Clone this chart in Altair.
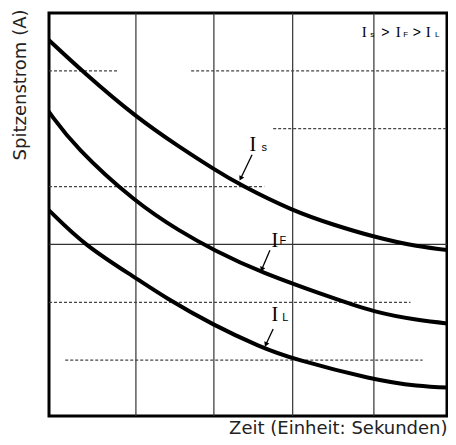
import altair as alt
import pandas as pd

# ---- data (x: time units, y: current units) ----
is_x = [0, 0.42, 1.07, 1.61, 2.03, 2.35, 3.00, 3.50, 4.00, 4.53, 5.0]
is_y = [6.53, 5.98, 5.20, 4.68, 4.30, 4.03, 3.58, 3.34, 3.13, 2.96, 2.89]
if_x = [0, 0.32, 1.07, 1.61, 2.03, 2.60, 3.50, 4.00, 4.53, 5.0]
if_y = [5.29, 4.68, 3.72, 3.23, 2.90, 2.52, 2.07, 1.83, 1.69, 1.62]
il_x = [0, 0.44, 1.07, 1.43, 2.03, 2.60, 3.00, 4.00, 4.53, 5.0]
il_y = [3.59, 2.98, 2.42, 2.08, 1.60, 1.23, 1.02, 0.66, 0.55, 0.52]

vgrid_x = [1.07, 2.03, 3.0, 4.0]
# horizontal grid segments: y, x start, x end, solid?
hgrid_y = [6, 6, 5, 4, 3, 2, 1]
hgrid_x1 = [0, 1.75, 2.76, 0, 0, 0, 0.2]
hgrid_x2 = [0.84, 5, 5, 2.65, 5, 4.45, 4.6]
hgrid_solid = [False, False, False, False, True, False, False]

# curve labels: main letter "I" and subscript
lab_i_x = [2.51, 2.78, 2.78]
lab_i_y = [4.61, 2.96, 1.68]
lab_sub = ["s", "F", "L"]
lab_sub_x = [2.65, 2.88, 2.91]
lab_sub_y = [4.61, 3.00, 1.68]
arrow_x1 = [2.50, 2.72, 2.76]
arrow_y1 = [4.55, 2.90, 1.54]
arrow_x2 = [2.36, 2.62, 2.67]
arrow_y2 = [4.14, 2.57, 1.27]
arrow_angle = [26.6, 21.8, 23.6]

# top-right legend "Is > IF > IL"
leg_i_x = [3.88, 4.30, 4.67]
leg_sub = ["s", "F", "L"]
leg_sub_x = [3.98, 4.39, 4.78]
leg_gt_x = [4.14, 4.53]
leg_y = 6.58

curves = pd.concat([
    pd.DataFrame({"x": is_x, "y": is_y, "c": "Is"}),
    pd.DataFrame({"x": if_x, "y": if_y, "c": "IF"}),
    pd.DataFrame({"x": il_x, "y": il_y, "c": "IL"}),
])

xs = alt.Scale(domain=[0, 4.90], nice=False, zero=False)
ys = alt.Scale(domain=[0.035, 7], nice=False, zero=False)

x_axis = alt.Axis(title="Zeit (Einheit: Sekunden)", labels=False, ticks=False, grid=False,
                  domain=False, titleAnchor="end", titleAlign="right", titleX=398, titleY=17,
                  titleBaseline="alphabetic", titleFont="DejaVu Sans", titleFontSize=18,
                  titleFontWeight="normal", titleColor="#222")
y_axis = alt.Axis(title="Spitzenstrom (A)", labels=False, ticks=False, grid=False,
                  domain=False, titleAngle=270, titleAlign="right", titleAnchor="end",
                  titleX=-24, titleY=-4, titleBaseline="alphabetic", titleFont="DejaVu Sans",
                  titleFontSize=18, titleFontWeight="normal", titleColor="#222")

vg = alt.Chart(pd.DataFrame({"x": vgrid_x})).mark_rule(color="#333", strokeWidth=1.2).encode(
    x=alt.X("x:Q", scale=xs, axis=x_axis))

hg_df = pd.DataFrame({"y": hgrid_y, "x1": hgrid_x1, "x2": hgrid_x2, "solid": hgrid_solid})
hg_solid = alt.Chart(hg_df[hg_df.solid]).mark_rule(color="#333", strokeWidth=1.2, clip=True).encode(
    y=alt.Y("y:Q", scale=ys, axis=y_axis), x=alt.X("x1:Q", scale=xs), x2="x2:Q")
hg_dash = alt.Chart(hg_df[~hg_df.solid]).mark_rule(color="#444", strokeWidth=1.2,
                                                    strokeDash=[3, 2], clip=True).encode(
    y=alt.Y("y:Q", scale=ys), x=alt.X("x1:Q", scale=xs), x2="x2:Q")

lines = alt.Chart(curves).mark_line(color="black", strokeWidth=4, interpolate="basis",
                                    strokeCap="round", clip=True).encode(
    x=alt.X("x:Q", scale=xs), y=alt.Y("y:Q", scale=ys), detail="c:N")

lab_df = pd.DataFrame({"x": lab_i_x, "y": lab_i_y, "t": ["I"] * 3})
lab_i = alt.Chart(lab_df).mark_text(font="Liberation Serif", fontSize=20, baseline="alphabetic",
                                    align="center", color="black").encode(
    x=alt.X("x:Q", scale=xs), y=alt.Y("y:Q", scale=ys), text="t:N")
sub_df = pd.DataFrame({"x": lab_sub_x, "y": lab_sub_y, "t": lab_sub})
lab_s = alt.Chart(sub_df).mark_text(font="Liberation Sans", fontSize=11, baseline="alphabetic",
                                    align="center", color="black").encode(
    x=alt.X("x:Q", scale=xs), y=alt.Y("y:Q", scale=ys), text="t:N")

arr_df = pd.DataFrame({"x1": arrow_x1, "y1": arrow_y1, "x2": arrow_x2, "y2": arrow_y2,
                       "a": arrow_angle})
arr = alt.Chart(arr_df).mark_rule(color="black", strokeWidth=1.3).encode(
    x=alt.X("x1:Q", scale=xs), y=alt.Y("y1:Q", scale=ys), x2="x2:Q", y2="y2:Q")
heads = alt.Chart(arr_df).mark_point(shape="triangle-down", filled=True, color="black",
                                     size=30, opacity=1).encode(
    x=alt.X("x2:Q", scale=xs), y=alt.Y("y2:Q", scale=ys), angle=alt.Angle("a:Q", scale=None))

leg_i = alt.Chart(pd.DataFrame({"x": leg_i_x, "y": [leg_y] * 3, "t": ["I"] * 3})).mark_text(
    font="Liberation Serif", fontSize=15, baseline="alphabetic", align="center", color="black").encode(
    x=alt.X("x:Q", scale=xs), y=alt.Y("y:Q", scale=ys), text="t:N")
leg_s = alt.Chart(pd.DataFrame({"x": leg_sub_x, "y": [leg_y] * 3, "t": leg_sub})).mark_text(
    font="Liberation Sans", fontSize=8, baseline="alphabetic", align="center", color="black").encode(
    x=alt.X("x:Q", scale=xs), y=alt.Y("y:Q", scale=ys), text="t:N")
leg_g = alt.Chart(pd.DataFrame({"x": leg_gt_x, "y": [leg_y] * 2, "t": [">"] * 2})).mark_text(
    font="Liberation Sans", fontSize=14, baseline="alphabetic", align="center", color="black").encode(
    x=alt.X("x:Q", scale=xs), y=alt.Y("y:Q", scale=ys), text="t:N")

chart = alt.layer(vg, hg_solid, hg_dash, lines, arr, heads, lab_i, lab_s, leg_i, leg_s, leg_g).properties(
    width=398, height=403,
    autosize=alt.AutoSizeParams(type="none"),
    padding={"left": 41, "top": 5, "right": 1, "bottom": 21},
).configure_view(stroke="black", strokeWidth=3)

chart.save("out.html", embed_options={"renderer": "svg", "actions": False})
